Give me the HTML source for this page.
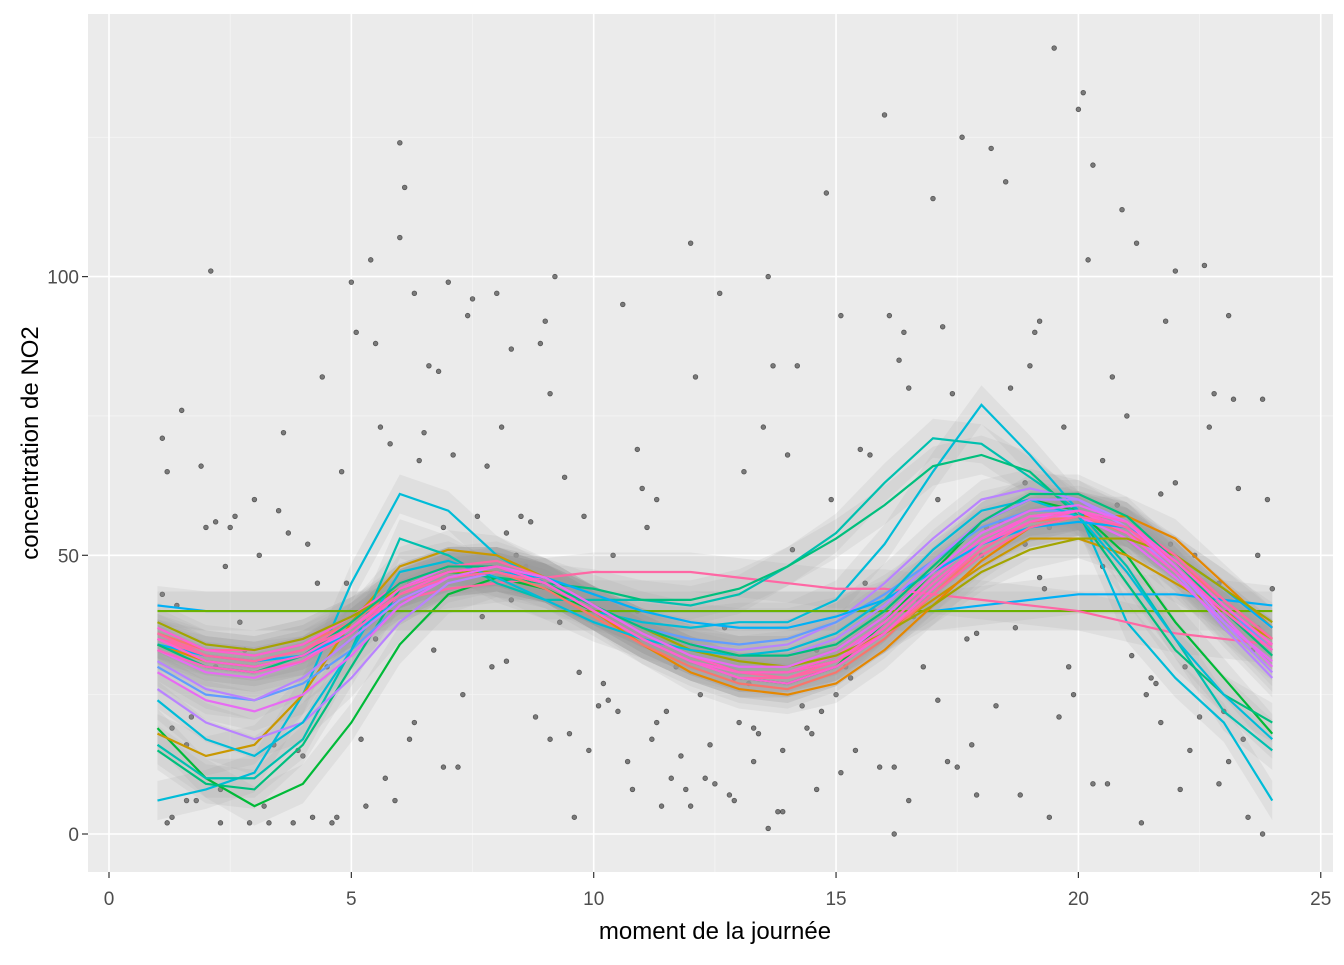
<!DOCTYPE html>
<html><head><meta charset="utf-8"><style>
body{margin:0;background:#fff}
svg text{font-family:"Liberation Sans",Arial,sans-serif}
</style></head><body>
<svg id="chart" width="1344" height="960" xmlns="http://www.w3.org/2000/svg">
<rect x="88" y="14" width="1245" height="858" fill="#EBEBEB"/>
<g id="grid"></g>
<g id="points"></g>
<g id="ribbons"></g>
<g id="lines"></g>
<g id="axes"></g>
<text x="715" y="939" text-anchor="middle" font-size="24" fill="#000">moment de la journée</text>
<text transform="translate(38,443) rotate(-90)" text-anchor="middle" font-size="24" fill="#000">concentration de NO2</text>
</svg>
<script>
const xTicks=[0,5,10,15,20,25];
const yTicks=[0,50,100];
const hours=[1,2,3,4,5,6,7,8,9,10,11,12,13,14,15,16,17,18,19,20,21,22,23,24];
const seriesColors=["#00BCD8","#00BA38","#00B0F6","#6BB100","#FF67A4","#C99800","#E58700","#00C0AF","#00BF7D","#B983FF","#619CFF","#F8766D","#E76BF3","#FD61D1","#00B0F6","#A3A500","#00BCD8","#FF67A4","#B983FF","#00BF7D","#FF61C3","#FF67A4","#E76BF3","#FD61D1"];
const s0=[6,8,11,25,45,61,58,50,45,40,38,37,38,38,42,52,65,77,68,58,38,28,20,6];
const s1=[19,10,5,9,20,34,43,46,44,40,35,31,28,27,30,38,47,56,60,58,50,38,28,18];
const s2=[41,40,40,40,40,40,40,40,40,40,40,40,40,40,40,40,40,41,42,43,43,43,42,41];
const s3=[40,40,40,40,40,40,40,40,40,40,40,40,40,40,40,40,40,40,40,40,40,40,40,40];
const s4=[35,33,33,35,39,42,44,45,46,47,47,47,46,45,44,44,43,42,41,40,38,36,35,34];
const s5=[18,14,16,25,38,48,51,50,46,41,36,32,29,29,31,36,42,48,53,53,50,45,40,35];
const s6=[34,31,30,32,37,44,48,48,45,40,34,29,26,25,27,33,41,49,55,57,57,53,45,37];
const s7=[16,10,10,17,33,53,50,45,42,42,42,41,43,48,54,63,71,70,64,58,48,35,22,15];
const s8=[15,9,8,16,30,44,47,46,45,44,42,42,44,48,53,59,66,68,65,57,45,33,25,20];
const s9=[26,20,17,20,28,38,45,47,45,41,37,34,33,34,38,45,53,60,62,60,55,47,37,28];
const s10=[30,25,24,27,33,41,46,47,45,41,37,35,34,35,38,43,49,55,58,58,55,49,41,33];
const s11=[36,33,32,34,38,44,47,47,44,39,34,30,27,26,29,35,43,51,56,57,54,49,42,35];
const s12=[33,29,28,31,37,44,48,48,45,40,35,31,28,28,31,38,46,53,57,57,53,46,38,31];
const s13=[37,33,32,34,39,45,48,48,45,40,35,31,29,29,32,38,46,53,57,58,54,47,40,33];
const s14=[34,32,31,32,36,42,46,47,46,43,40,38,37,37,39,42,47,52,55,56,55,50,44,37];
const s15=[38,34,33,35,39,44,47,47,45,41,37,33,31,30,32,36,41,47,51,53,53,50,44,38];
const s16=[24,17,14,20,33,47,49,46,42,38,35,33,32,33,36,42,51,58,60,57,47,35,25,17];
const s17=[35,32,31,33,38,45,48,49,46,41,36,32,29,28,31,36,44,51,56,58,56,50,42,35];
const s18=[31,26,24,28,35,42,46,47,45,41,37,34,32,32,35,41,49,56,60,60,56,48,38,29];
const s19=[34,30,29,32,38,45,48,48,45,41,37,34,32,32,34,40,48,56,61,61,57,49,40,32];
const s20=[33,30,29,31,36,43,47,48,46,41,36,32,29,29,31,37,45,52,56,58,55,48,40,33];
const s21=[36,32,31,33,37,43,46,47,45,40,35,31,28,28,30,36,43,50,55,57,55,49,41,34];
const s22=[29,24,22,25,32,41,46,48,46,41,36,32,30,30,33,39,47,54,58,59,56,48,39,30];
const s23=[35,31,30,32,37,44,47,48,45,40,35,31,28,27,30,36,44,52,57,58,56,49,41,34];
const seriesList=[s0,s1,s2,s3,s4,s5,s6,s7,s8,s9,s10,s11,s12,s13,s14,s15,s16,s17,s18,s19,s20,s21,s22,s23];
const pointData=[[1.1,71],[1.2,65],[1.1,43],[1.5,76],[1.3,3],[1.8,6],[2.1,101],[2.2,56],[2.3,2],[2.6,57],[2.9,2],[3.0,60],[3.2,5],[3.6,72],[3.8,2],[1.2,2],[1.4,41],[1.6,6],[2.0,55],[2.5,55],[3.3,2],[3.5,58],[3.7,54],[4.2,3],[4.4,82],[4.6,2],[4.8,65],[5.0,99],[5.2,17],[5.4,103],[5.5,88],[5.7,10],[5.9,6],[6.0,124],[6.1,116],[6.3,97],[6.5,72],[6.8,83],[7.0,99],[7.2,12],[7.5,96],[7.8,66],[8.0,97],[8.2,31],[8.5,57],[8.8,21],[9.0,92],[9.2,100],[9.5,18],[9.7,29],[10.0,40],[10.3,24],[10.6,95],[10.9,69],[11.2,17],[11.5,22],[11.8,14],[12.0,106],[12.3,10],[12.6,97],[12.9,28],[13.1,65],[13.3,19],[13.6,100],[13.9,4],[14.2,84],[14.5,18],[14.8,115],[15.1,93],[15.4,15],[15.7,68],[16.0,129],[16.2,12],[16.5,80],[16.8,30],[17.0,114],[17.3,13],[17.6,125],[17.9,7],[18.2,123],[18.5,117],[18.8,7],[19.0,84],[19.2,92],[19.5,141],[19.8,30],[20.0,130],[20.1,133],[20.3,120],[20.6,9],[20.9,112],[21.2,106],[21.5,28],[21.8,92],[22.0,101],[22.3,15],[22.6,102],[22.9,9],[23.2,78],[23.5,3],[23.8,78],[24.0,44],
[5.1,90],[6.0,107],[6.6,84],[7.4,93],[8.1,73],[8.9,88],[9.6,3],[10.5,22],[11.4,5],[12.2,25],[13.0,20],[13.8,4],[14.7,22],[15.5,69],[16.4,90],[17.2,91],[18.1,55],[19.1,90],[20.2,103],[21.0,75],[21.9,52],[22.7,73],[23.6,33],[5.3,5],[6.2,45],[7.1,68],[8.3,87],[9.3,38],[10.2,27],[11.0,62],[11.9,8],[12.7,37],[13.5,73],[14.3,23],[15.2,30],[16.1,93],[17.1,60],[18.0,50],[18.9,52],[19.7,73],[20.5,67],[21.4,25],[22.2,30],[23.1,93],[23.9,60],[3.1,50],[4.1,52],[5.6,73],[6.4,67],[7.3,25],[8.6,48],[9.8,57],[10.8,8],[11.6,10],[12.5,9],[13.4,18],[14.1,51],[14.9,60],[15.8,40],[16.7,42],[17.5,12],[18.4,56],[19.3,44],[20.4,58],[21.3,2],[22.1,8],[23.0,22],[23.7,37],[2.4,48],[3.9,15],[4.3,45],[6.7,33],[7.7,39],[9.1,79],[10.1,23],[11.1,55],[12.1,82],[13.2,27],[14.0,68],[14.6,33],[15.6,45],[16.6,39],[17.4,79],[18.3,23],[19.4,55],[20.7,82],[21.6,27],[22.4,50],[23.3,62],[1.9,66],[2.8,33],[4.9,45],[5.8,70],[6.9,12],[8.4,50],[9.4,64],[10.4,50],[11.3,60],[12.4,16],[13.7,84],[14.4,19],[15.3,28],[16.3,85],[17.7,35],[18.6,80],[19.6,21],[20.8,59],[21.7,61],[22.8,79],[23.4,17],
[1.3,19],[1.7,21],[2.2,30],[2.7,38],[3.4,16],[4.0,14],[4.5,30],[5.5,35],[6.3,20],[6.9,55],[7.6,57],[8.2,54],[8.7,56],[9.1,17],[9.9,15],[10.7,13],[11.3,20],[12.0,5],[12.8,7],[13.3,13],[13.9,15],[14.6,8],[15.1,11],[15.9,12],[16.5,6],[17.1,24],[17.8,16],[18.7,37],[19.2,46],[19.9,25],[20.3,9],[21.1,32],[21.7,20],[22.5,21],[23.1,13],[23.8,0],[1.6,16],[2.3,8],[4.7,3],[6.2,17],[7.9,30],[8.3,42],[10.9,40],[11.7,30],[12.9,6],[13.6,1],[15.0,25],[16.2,0],[17.9,36],[18.9,63],[19.4,3],[20.5,48],[22.0,63],[22.9,45],[23.7,50]];
const X=v=>109+v*48.47, Y=v=>834-v*5.574;
const NS="http://www.w3.org/2000/svg";
function mk(tag,attrs,parent){const e=document.createElementNS(NS,tag);for(const k in attrs)e.setAttribute(k,attrs[k]);parent.appendChild(e);return e;}
const grid=document.getElementById('grid');
for(let i=0;i<xTicks.length-1;i++){const m=(xTicks[i]+xTicks[i+1])/2;const g=mk('line',{x1:X(m),x2:X(m),y1:14,y2:872,stroke:'#F5F5F5','stroke-width':0.8},grid);

}
[25,75,125].forEach(v=>{const g=mk('line',{x1:88,x2:1333,y1:Y(v),y2:Y(v),stroke:'#F5F5F5','stroke-width':0.8},grid);

});
xTicks.forEach(v=>{const g=mk('line',{x1:X(v),x2:X(v),y1:14,y2:872,stroke:'#fff','stroke-width':1.6},grid);

});
yTicks.forEach(v=>{const g=mk('line',{x1:88,x2:1333,y1:Y(v),y2:Y(v),stroke:'#fff','stroke-width':1.6},grid);

});
const pts=document.getElementById('points');
pointData.forEach(p=>{const c=mk('circle',{cx:X(p[0]),cy:Y(p[1]),r:2.3,fill:'#555',stroke:'#222','stroke-width':0.8,opacity:0.75},pts);

});
const rib=document.getElementById('ribbons'), lin=document.getElementById('lines');
seriesList.forEach((s,k)=>{
  let up=hours.map((h,i)=>X(h)+','+Y(s[i]+3.5)).join(' L');
  let dn=hours.slice().reverse().map((h,j)=>{const i=hours.length-1-j;return X(h)+','+Y(s[i]-3.5);}).join(' L');
  const r=mk('path',{d:'M'+up+' L'+dn+'Z',fill:'#999',opacity:0.14},rib);
  
  
});
seriesList.forEach((s,k)=>{
  const l=mk('polyline',{points:hours.map((h,i)=>X(h)+','+Y(s[i])).join(' '),fill:'none',stroke:seriesColors[k],'stroke-width':2.2},lin);
  
  
});
const ax=document.getElementById('axes');
xTicks.forEach(v=>{mk('line',{x1:X(v),x2:X(v),y1:872,y2:878,stroke:'#333','stroke-width':1.2},ax);
const t=mk('text',{x:X(v),y:905,'text-anchor':'middle','font-size':19,fill:'#4D4D4D'},ax);t.textContent=v;

});
yTicks.forEach(v=>{mk('line',{x1:82,x2:88,y1:Y(v),y2:Y(v),stroke:'#333','stroke-width':1.2},ax);
const t=mk('text',{x:79,y:Y(v)+7,'text-anchor':'end','font-size':19,fill:'#4D4D4D'},ax);t.textContent=v;

});
</script>
</body></html>
